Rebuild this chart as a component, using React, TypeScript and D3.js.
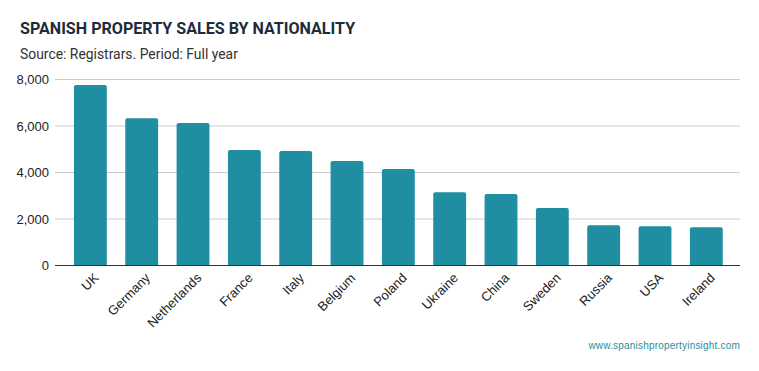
import { useEffect, useRef } from "react";
import * as d3 from "d3";

const countries = [
  "UK", "Germany", "Netherlands", "France", "Italy", "Belgium", "Poland",
  "Ukraine", "China", "Sweden", "Russia", "USA", "Ireland",
];
const sales = [7760, 6330, 6130, 4970, 4925, 4495, 4150, 3150, 3075, 2475, 1730, 1685, 1645];
const yTicks = [0, 2000, 4000, 6000, 8000];

export default function App() {
  const ref = useRef<SVGSVGElement>(null);

  useEffect(() => {
    const width = 759;
    const height = 371;
    const svg = d3.select(ref.current).attr("width", width).attr("height", height);
    svg.selectAll("*").remove();

    const font = "Roboto, 'Noto Sans', sans-serif";
    const axisFont = "'Liberation Sans', Arial, sans-serif";
    const left = 55, right = 740, top = 79.5, bottom = 265.5;

    const x = d3.scaleBand().domain(countries).range([64.7, 732]).paddingInner(0.36).paddingOuter(0.18);
    const y = d3.scaleLinear().domain([0, 8000]).range([bottom, top]);

    // titulos
    svg.append("text")
      .attr("x", 20).attr("y", 34)
      .attr("fill", "#1d2b3a")
      .style("font", `bold 16.1px ${font}`)
      .text("SPANISH PROPERTY SALES BY NATIONALITY");
    svg.append("text")
      .attr("x", 20).attr("y", 59)
      .attr("fill", "#333")
      .style("font", `13.9px ${font}`)
      .text("Source: Registrars. Period: Full year");

    // grade
    const grid = svg.append("g");
    grid.selectAll("line")
      .data(yTicks.filter(d => d > 0))
      .join("line")
      .attr("x1", left).attr("x2", right)
      .attr("y1", d => y(d)).attr("y2", d => y(d))
      .attr("stroke", "#ccc").attr("stroke-width", 1);
    grid.selectAll("text")
      .data(yTicks)
      .join("text")
      .attr("x", 49).attr("y", d => y(d)).attr("dy", "0.35em")
      .attr("text-anchor", "end")
      .attr("fill", "#222")
      .style("font", `13px ${axisFont}`)
      .text(d => d3.format(",")(d));

    // barras
    const bw = x.bandwidth();
    const r = 2;
    svg.append("g")
      .selectAll("path")
      .data(countries)
      .join("path")
      .attr("fill", "#1e8ea0")
      .attr("d", (c, i) => {
        const x0 = x(c)!, y0 = y(sales[i]), y1 = y(0);
        return `M${x0},${y1}V${y0 + r}Q${x0},${y0} ${x0 + r},${y0}H${x0 + bw - r}Q${x0 + bw},${y0} ${x0 + bw},${y0 + r}V${y1}Z`;
      });

    // eixo
    svg.append("line")
      .attr("x1", left).attr("x2", right)
      .attr("y1", bottom).attr("y2", bottom)
      .attr("stroke", "#333").attr("stroke-width", 1.2);

    svg.append("g")
      .selectAll("text")
      .data(countries)
      .join("text")
      .attr("transform", c => `translate(${x(c)! + bw / 2 + 6},${bottom + 10}) rotate(-45)`)
      .attr("text-anchor", "end")
      .attr("dy", "0.35em")
      .attr("fill", "#222")
      .style("font", `13px ${axisFont}`)
      .text(c => c);

    svg.append("text")
      .attr("x", right).attr("y", 349)
      .attr("text-anchor", "end")
      .attr("fill", "#1e8ea0")
      .style("font", `10px ${axisFont}`)
      .style("letter-spacing", "0.2px")
      .text("www.spanishpropertyinsight.com");
  }, []);

  return <svg ref={ref} style={{ position: "absolute", left: 0, top: 0 }} />;
}
